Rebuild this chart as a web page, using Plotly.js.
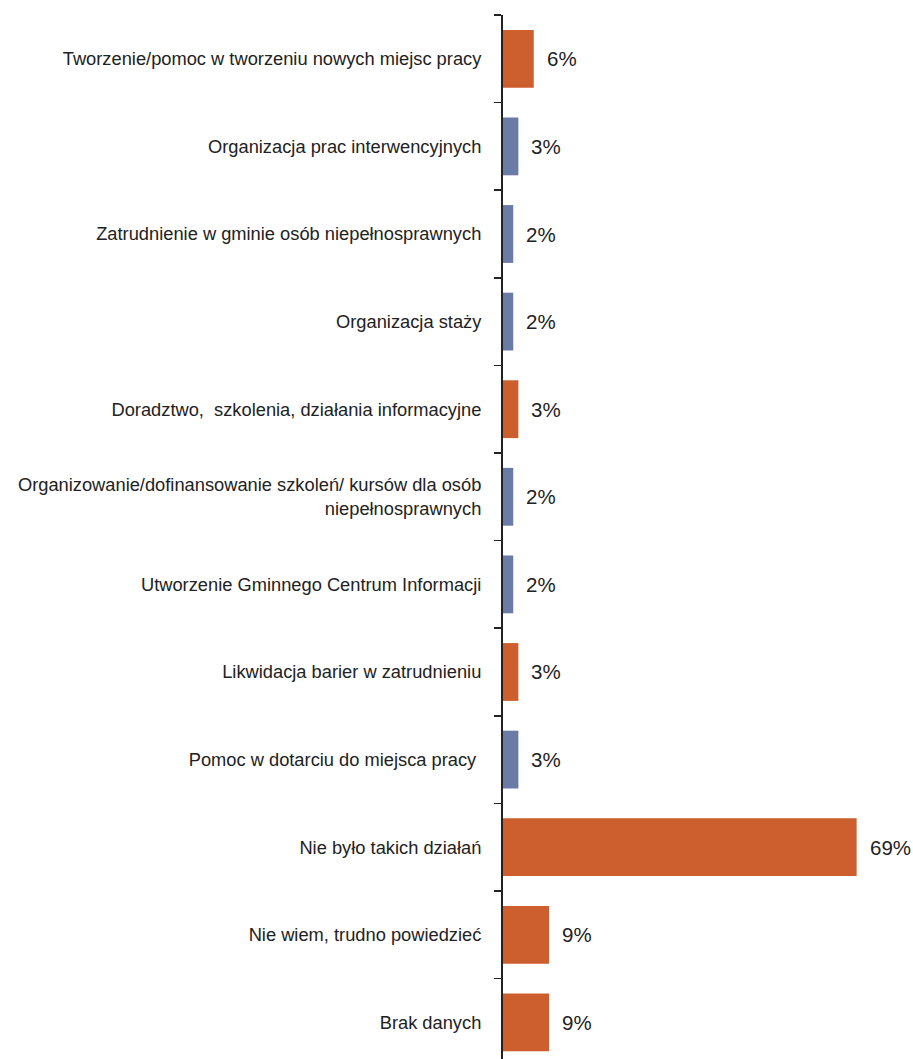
<!DOCTYPE html>
<html>
<head>
<meta charset="utf-8">
<script src="https://cdn.plot.ly/plotly-3.0.1.min.js"></script>
<style>html,body{margin:0;padding:0;background:#fff;}#chart{width:913px;height:1059px;}</style>
</head>
<body>
<div id="chart"></div>
<script>
const categories = [
  "Tworzenie/pomoc w tworzeniu nowych miejsc pracy",
  "Organizacja prac interwencyjnych",
  "Zatrudnienie w gminie osób niepełnosprawnych",
  "Organizacja staży",
  "Doradztwo,  szkolenia, działania informacyjne",
  "Organizowanie/dofinansowanie szkoleń/ kursów dla osób<br>niepełnosprawnych",
  "Utworzenie Gminnego Centrum Informacji",
  "Likwidacja barier w zatrudnieniu",
  "Pomoc w dotarciu do miejsca pracy ",
  "Nie było takich działań",
  "Nie wiem, trudno powiedzieć",
  "Brak danych"
];
const values = [6, 3, 2, 2, 3, 2, 2, 3, 3, 69, 9, 9];
const groups = ["o","b","b","b","o","b","b","o","b","o","o","o"];

const ORANGE = "#CD5E2E", BLUE = "#6B7BA8";
const colors = groups.map(g => g === "o" ? ORANGE : BLUE);

const trace = {
  type: "bar",
  orientation: "h",
  x: values,
  y: categories,
  marker: {color: colors, line: {width: 0}},
  hoverinfo: "none"
};

const annotations = values.map((v, i) => ({
  x: v, y: categories[i], xref: "x", yref: "y",
  text: v + "%", showarrow: false, xanchor: "left", xshift: 11,
  font: {family: "Liberation Sans, Arial, sans-serif", size: 20.5, color: "#222"}
}));

const layout = {
  width: 913, height: 1059,
  margin: {l: 503, r: 0, t: 15, b: 0, pad: 0},
  paper_bgcolor: "#fff", plot_bgcolor: "#fff",
  bargap: 0.34,
  showlegend: false,
  font: {family: "Liberation Sans, Arial, sans-serif", color: "#222"},
  xaxis: {visible: false, range: [0, 80], fixedrange: true},
  yaxis: {
    type: "category",
    categoryorder: "array", categoryarray: categories,
    range: [11.418, -0.5],
    showline: true, linecolor: "#222", linewidth: 2,
    ticks: "outside", tickson: "boundaries", ticklen: 7, tickwidth: 1.5, tickcolor: "#222",
    ticklabelstandoff: 16,
    tickfont: {size: 18.3, color: "#222"},
    showgrid: false, zeroline: false
  },
  annotations: annotations
};

Plotly.newPlot("chart", [trace], layout, {staticPlot: true});
</script>
</body>
</html>
